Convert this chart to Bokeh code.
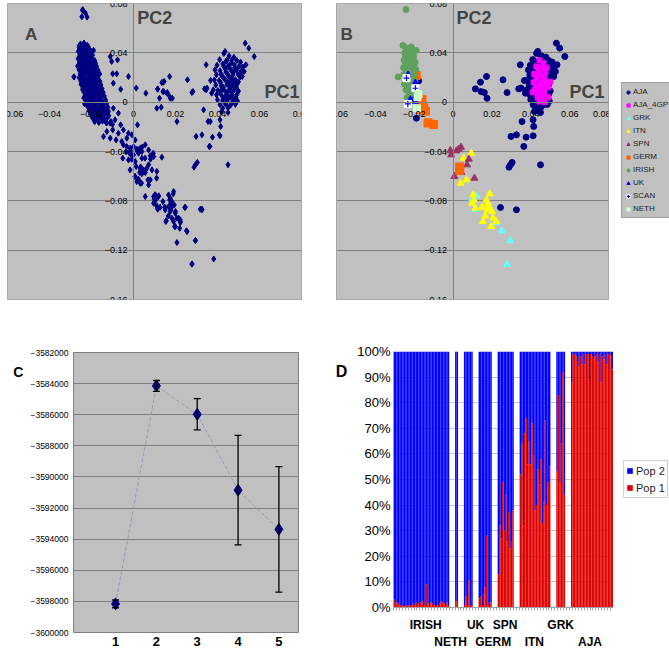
from bokeh.plotting import figure
from bokeh.models import (ColumnDataSource, Legend, LegendItem, Label, Whisker, LinearAxis,
                          TeeHead, FixedTicker, BasicTickFormatter, PrintfTickFormatter, Range1d)
from bokeh.layouts import row, column
from bokeh.embed import file_html
from bokeh.resources import INLINE

FONT = "Liberation Sans"
PLOT_BG = "#C0C0C0"
GRID = "#808080"

# ---------------- PCA data (PC1, PC2) ----------------
PC1_TICKS = [-0.06, -0.04, -0.02, 0, 0.02, 0.04, 0.06, 0.08]
PC2_TICKS = [-0.16, -0.12, -0.08, -0.04, 0, 0.04, 0.08]

AJA = [(0.0430,0.0395),(0.0455,0.0375),(0.0478,0.0365),
       (0.0410,0.0345),(0.0440,0.0330),(0.0468,0.0340),(0.0492,0.0338),(0.0510,0.0325),
       (0.0398,0.0300),(0.0425,0.0310),(0.0452,0.0295),(0.0480,0.0302),(0.0502,0.0290),(0.0520,0.0285),
       (0.0388,0.0262),(0.0412,0.0255),(0.0438,0.0268),(0.0465,0.0258),(0.0490,0.0262),(0.0512,0.0250),
       (0.0395,0.0222),(0.0420,0.0215),(0.0448,0.0228),(0.0472,0.0218),(0.0498,0.0225),(0.0508,0.0205),
       (0.0385,0.0180),(0.0408,0.0175),(0.0435,0.0185),(0.0460,0.0172),(0.0485,0.0182),
       (0.0392,0.0140),(0.0418,0.0132),(0.0445,0.0145),(0.0470,0.0135),(0.0492,0.0142),
       (0.0380,0.0100),(0.0402,0.0095),(0.0428,0.0105),(0.0455,0.0098),(0.0480,0.0102),(0.0500,0.0090),
       (0.0395,0.0060),(0.0420,0.0055),(0.0446,0.0065),(0.0470,0.0058),(0.0492,0.0062),
       (0.0400,0.0020),(0.0425,0.0015),(0.0450,0.0025),(0.0475,0.0018),(0.0495,0.0010),
       (0.0412,-0.0020),(0.0438,-0.0015),(0.0462,-0.0025),(0.0485,-0.0018),
       (0.0425,-0.0050),(0.0450,-0.0045),
       (0.0172,0.0208),(0.0141,0.0162),(0.0115,0.0108),(0.0144,0.0086),(0.0161,0.0078),(0.0175,0.0032),
       (0.0257,0.0181),(0.0278,0.0078),(0.0346,0.0303),(0.0338,0.0108),(0.0350,0.0114),(0.0367,0.0176),
       (0.0372,0.0073),(0.0532,0.0478),(0.0549,0.0438),(0.0575,0.0370),(0.0436,0.0411),(0.0535,0.0303),
       (0.0527,0.0249),(0.0518,0.0208),(0.0419,-0.0076),(0.0450,-0.0084),(0.0355,-0.0157),(0.0412,-0.0143),
       (0.0415,-0.0197),(0.0298,-0.0278),(0.0326,-0.0265),(0.0376,-0.0284),(0.0412,-0.0273),(0.0364,-0.0359),
       (0.0304,-0.0489),(0.0295,-0.0508),(0.0288,-0.0527),(0.0450,-0.0508),(0.0244,-0.0854),(0.0326,-0.0873),
       (-0.0177,0.0173),(-0.0189,-0.0130)]
AJA_4GP = [(0.0445,0.0340),(0.0465,0.0318),(0.0430,0.0290),(0.0458,0.0278),(0.0440,0.0245),(0.0475,0.0240),
           (0.0418,0.0228),(0.0452,0.0210),(0.0430,0.0195),(0.0470,0.0195),(0.0415,0.0160),(0.0448,0.0160),
           (0.0478,0.0158),(0.0428,0.0120),(0.0460,0.0118),(0.0490,0.0120),(0.0410,0.0080),(0.0440,0.0082),
           (0.0468,0.0078),(0.0488,0.0040),(0.0435,0.0040),(0.0460,0.0040),(0.0445,0.0005),(0.0472,0.0002),
           (0.0420,0.0100),(0.0482,0.0280),(0.0455,0.0135),(0.0500,0.0165)]
GRK = [(0.0098,-0.0786),(0.0120,-0.0759),(0.0115,-0.0868),(0.0223,-0.0976),(0.0252,-0.1043),
       (0.0295,-0.1122),(0.0278,-0.1314)]
ITN = [(0.0094,-0.0414),(0.0055,-0.0454),(0.0069,-0.0630),(0.0038,-0.0657),(0.0103,-0.0751),(0.0098,-0.0819),
       (0.0115,-0.0859),(0.0149,-0.0851),(0.0172,-0.0792),(0.0189,-0.0743),(0.0184,-0.0846),(0.0200,-0.0886),
       (0.0166,-0.0922),(0.0206,-0.0940),(0.0154,-0.0968),(0.0196,-0.1008),(0.0223,-0.0968),(0.0178,-0.0873),
       (0.0106,-0.0792),(0.0178,-0.0819)]
SPN = [(-0.0014,-0.0392),(-0.0010,-0.0427),(0.0017,-0.0395),(0.0029,-0.0381),(0.0041,-0.0365),(0.0081,-0.0462),
       (0.0072,-0.0508),(0.0007,-0.0603),(0.0029,-0.0570),(0.0043,-0.0570),(0.0110,-0.0616)]
GERM = [(-0.0190,0.0216),(-0.0211,0.0057),(-0.0180,0.0040),(-0.0163,-0.0005),(-0.0151,-0.0046),(-0.0142,-0.0073),
        (-0.0129,-0.0168),(-0.0100,-0.0181),(-0.0168,-0.0059),(-0.0160,0.0022),(0.0034,-0.0525),(0.0034,-0.0555)]
IRISH = [(-0.0242,0.0751),(-0.0258,0.0460),(-0.0242,0.0440),(-0.0215,0.0448),(-0.0190,0.0420),(-0.0248,0.0400),
         (-0.0228,0.0410),(-0.0208,0.0400),(-0.0245,0.0370),(-0.0225,0.0365),(-0.0203,0.0370),(-0.0252,0.0340),
         (-0.0232,0.0335),(-0.0212,0.0340),(-0.0195,0.0325),(-0.0245,0.0305),(-0.0220,0.0300),(-0.0200,0.0298),
         (-0.0255,0.0280),(-0.0236,0.0275),(-0.0210,0.0270),(-0.0192,0.0265),(-0.0283,0.0205),(-0.0253,0.0225),
         (-0.0228,0.0232),(-0.0203,0.0218),(-0.0245,0.0185),(-0.0218,0.0180),(-0.0196,0.0170),(-0.0250,0.0145),
         (-0.0230,0.0130),(-0.0206,0.0135),(-0.0242,0.0100),(-0.0220,0.0090),(-0.0195,0.0098),(-0.0228,0.0060),
         (-0.0207,0.0055),(-0.0237,0.0035)]
UK = [(-0.0232,0.0224),(-0.0194,0.0160),(-0.0220,0.0024),(-0.0194,0.0046),(-0.0194,0.0005),(-0.0182,0.0084)]
SCAN = [(-0.0240,0.0195),(-0.0194,0.0113),(-0.0233,-0.0014)]
NETH = [(-0.0183,0.0040),(-0.0186,-0.0050),(-0.0178,0.0065)]

# samples shown only in panel A (all-sample PCA)
A_ONLY = [(-0.0243,0.0745),(-0.0229,0.0722),(-0.0246,0.0692),(-0.0221,0.0690),
    (-0.0252,0.0472),(-0.0236,0.0480),(-0.0220,0.0462),
    (-0.0259,0.0443),(-0.0245,0.0436),(-0.0229,0.0446),(-0.0211,0.0431),
    (-0.0263,0.0412),(-0.0249,0.0405),(-0.0233,0.0418),(-0.0218,0.0402),(-0.0202,0.0414),
    (-0.0256,0.0383),(-0.0241,0.0376),(-0.0225,0.0388),(-0.0210,0.0372),(-0.0195,0.0381),
    (-0.0264,0.0352),(-0.0246,0.0345),(-0.0231,0.0358),(-0.0217,0.0343),(-0.0203,0.0355),(-0.0186,0.0340),
    (-0.0257,0.0322),(-0.0240,0.0315),(-0.0226,0.0328),(-0.0212,0.0312),(-0.0197,0.0324),(-0.0181,0.0318),
    (-0.0266,0.0293),(-0.0251,0.0286),(-0.0236,0.0298),(-0.0221,0.0284),(-0.0205,0.0295),(-0.0190,0.0282),(-0.0176,0.0291),
    (-0.0259,0.0262),(-0.0243,0.0255),(-0.0229,0.0268),(-0.0213,0.0252),(-0.0198,0.0264),(-0.0184,0.0251),(-0.0169,0.0259),
    (-0.0253,0.0232),(-0.0238,0.0225),(-0.0222,0.0236),(-0.0207,0.0222),(-0.0191,0.0233),(-0.0177,0.0220),(-0.0161,0.0228),
    (-0.0284,0.0205),(-0.0259,0.0198),(-0.0245,0.0206),(-0.0229,0.0192),(-0.0214,0.0203),(-0.0199,0.0190),(-0.0184,0.0201),(-0.0168,0.0188),
    (-0.0251,0.0172),(-0.0236,0.0165),(-0.0221,0.0176),(-0.0206,0.0162),(-0.0190,0.0173),(-0.0176,0.0160),(-0.0160,0.0169),
    (-0.0246,0.0142),(-0.0231,0.0135),(-0.0216,0.0146),(-0.0201,0.0131),(-0.0186,0.0143),(-0.0171,0.0130),(-0.0155,0.0139),
    (-0.0241,0.0112),(-0.0225,0.0104),(-0.0210,0.0116),(-0.0195,0.0101),(-0.0180,0.0113),(-0.0165,0.0100),(-0.0150,0.0109),
    (-0.0236,0.0082),(-0.0221,0.0075),(-0.0206,0.0086),(-0.0191,0.0071),(-0.0176,0.0083),(-0.0160,0.0070),(-0.0144,0.0079),
    (-0.0230,0.0052),(-0.0215,0.0045),(-0.0200,0.0056),(-0.0185,0.0041),(-0.0170,0.0053),(-0.0155,0.0040),(-0.0139,0.0049),
    (-0.0226,0.0022),(-0.0211,0.0015),(-0.0196,0.0026),(-0.0181,0.0011),(-0.0166,0.0023),(-0.0150,0.0010),(-0.0133,0.0019),
    (-0.0222,-0.0008),(-0.0207,-0.0015),(-0.0192,-0.0004),(-0.0177,-0.0019),(-0.0161,-0.0007),(-0.0146,-0.0020),(-0.0128,-0.0011),
    (-0.0218,-0.0038),(-0.0203,-0.0045),(-0.0188,-0.0034),(-0.0172,-0.0049),(-0.0156,-0.0037),(-0.0140,-0.0050),(-0.0122,-0.0041),
    (-0.0212,-0.0068),(-0.0196,-0.0075),(-0.0180,-0.0064),(-0.0164,-0.0079),(-0.0148,-0.0067),(-0.0130,-0.0080),
    (-0.0205,-0.0098),(-0.0188,-0.0105),(-0.0171,-0.0094),(-0.0155,-0.0109),(-0.0138,-0.0097),(-0.0118,-0.0110),
    (-0.0195,-0.0128),(-0.0176,-0.0135),(-0.0160,-0.0124),(-0.0142,-0.0139),(-0.0125,-0.0127),
    (-0.0185,-0.0158),(-0.0165,-0.0165),(-0.0148,-0.0154),(-0.0128,-0.0169),(-0.0108,-0.0157),
    (-0.0111,0.0370),(-0.0076,0.0343),(-0.0104,0.0330),(-0.0080,0.0230),(-0.0099,0.0230),(-0.0024,0.0208),
    (-0.0096,0.0154),(-0.0061,0.0105),(0.0013,0.0114),(0.0059,0.0073),(0.0115,0.0105),(0.0135,0.0159),
    (0.0146,0.0168),(0.0140,0.0086),(0.0159,0.0073),(0.0172,0.0046),(0.0185,0.0032),(0.0124,0.0032),
    (0.0111,-0.0049),(0.0132,-0.0041),(0.0207,-0.0157),(0.0283,0.0086),(0.0346,0.0100),(0.0334,-0.0062),
    (0.0366,-0.0157),(0.0361,-0.0359),(0.0409,-0.0265),
    (-0.0143,-0.0035),(-0.0119,-0.0076),(-0.0096,-0.0049),(-0.0072,-0.0089),(-0.0135,-0.0143),(-0.0111,-0.0170),
    (-0.0088,-0.0143),(-0.0061,-0.0184),(-0.0127,-0.0238),(-0.0099,-0.0225),(-0.0072,-0.0252),(-0.0048,-0.0225),
    (-0.0024,-0.0252),(-0.0143,-0.0279),(-0.0111,-0.0292),(-0.0083,-0.0306),(-0.0056,-0.0319),(-0.0032,-0.0292),
    (-0.0008,-0.0265),(0.0019,-0.0184),(0.0008,-0.0306),
    (-0.0048,-0.0346),(-0.0032,-0.0360),(-0.0016,-0.0373),(0.0000,-0.0360),(0.0016,-0.0381),(0.0032,-0.0373),
    (0.0056,-0.0346),(0.0072,-0.0387),(-0.0035,-0.0400),(-0.0019,-0.0414),(0.0000,-0.0427),(0.0024,-0.0414),
    (0.0040,-0.0400),(-0.0051,-0.0454),(-0.0024,-0.0468),(-0.0008,-0.0463),(0.0008,-0.0481),(0.0040,-0.0454),
    (0.0080,-0.0435),(0.0096,-0.0441),(0.0135,-0.0446),(-0.0016,-0.0549),(0.0013,-0.0522),(0.0032,-0.0535),
    (0.0048,-0.0549),(0.0064,-0.0535),(0.0088,-0.0549),(0.0111,-0.0562),(0.0008,-0.0603),(0.0024,-0.0625),
    (0.0040,-0.0581),(0.0056,-0.0571),(0.0080,-0.0630),(0.0032,-0.0657),(0.0016,-0.0644),(0.0072,-0.0671),
    (0.0056,-0.0765),(0.0096,-0.0765),(0.0104,-0.0752),(0.0119,-0.0765),(0.0096,-0.0819),(0.0111,-0.0841),
    (0.0127,-0.0852),(0.0140,-0.0806),(0.0167,-0.0752),(0.0175,-0.0779),(0.0183,-0.0806),(0.0191,-0.0725),
    (0.0194,-0.0833),(0.0167,-0.0846),(0.0151,-0.0873),(0.0175,-0.0887),(0.0199,-0.0900),(0.0215,-0.0941),
    (0.0223,-0.0954),(0.0183,-0.0941),(0.0191,-0.0968),(0.0156,-0.0960),(0.0199,-0.1008),(0.0220,-0.1022),
    (0.0247,-0.0852),(0.0255,-0.1049),(0.0295,-0.1122),(0.0207,-0.1138),(0.0318,-0.0868),(0.0326,-0.0868),
    (0.0279,-0.1311),(0.0382,-0.1271)]

# ---------------- Panel C data ----------------
K = [1, 2, 3, 4, 5]
LL_MEAN = [-3598160, -3584150, -3585970, -3590850, -3593370]
LL_ERR = [250, 350, 1000, 3520, 4030]
LL_TICKS = list(range(-3600000, -3581999, 2000))

# ---------------- Panel D data (Pop 1 share, %) ----------------
GROUPS = ["IRISH", "NETH", "UK", "GERM", "SPN", "ITN", "GRK", "AJA"]
POP1 = {
    "IRISH": [3, 2, 1.5, 1.5, 1, 1, 0.5, 0.5, 1, 1, 0.5, 1, 1, 1.5, 1, 2, 1.5, 1, 2, 2.5, 1, 1, 9, 1.5,
              1, 2, 1.5, 1, 1, 1, 1, 1.5, 2.5, 2, 1.5, 1, 2, 1],
    "NETH": [2.5, 2.5],
    "UK": [1, 4.5, 1, 10.5, 1, 0.5],
    "GERM": [3.5, 4.5, 1, 5, 8, 28, 1, 2, 2],
    "SPN": [13, 32, 27, 49, 30, 44, 26, 37, 23, 26, 38],
    "ITN": [52, 64, 32, 68, 74, 56, 65, 56, 72, 60, 38, 40, 54, 48, 58, 33, 41, 73, 40, 49, 55],
    "GRK": [53, 83, 49, 64, 92, 44],
    "AJA": [88, 99, 99, 98, 96, 94, 98, 95, 99, 95, 99, 99, 89, 99, 98, 97, 98, 99, 96, 99, 88, 98,
            97, 99, 95, 99, 99, 98, 93],
}
LABEL_ROW = [0, 1, 0, 1, 0, 1, 0, 1]
LABEL_NUDGE = [3, -4, 5, 5, 0, 0, 0, -2]   # in bar slots
PCT_TICKS = list(range(0, 101, 10))


def xs(pts):
    return [p[0] for p in pts]


def ys(pts):
    return [p[1] for p in pts]


def pca_figure(width, mbl, mbr):
    p = figure(width=width, height=330, x_range=Range1d(-0.06, 0.08), y_range=Range1d(-0.16, 0.08),
               output_backend="svg", toolbar_location=None,
               min_border_left=mbl, min_border_right=mbr, min_border_top=3, min_border_bottom=31)
    p.background_fill_color = PLOT_BG
    p.border_fill_color = "white"
    p.outline_line_color = "#A8A8A8"
    p.xgrid.visible = False
    p.ygrid.ticker = FixedTicker(ticks=PC2_TICKS)
    p.ygrid.grid_line_color = GRID
    p.xaxis.fixed_location = 0
    p.yaxis.fixed_location = 0
    p.xaxis.ticker = FixedTicker(ticks=PC1_TICKS)
    p.yaxis.ticker = FixedTicker(ticks=PC2_TICKS)
    p.xaxis.major_label_overrides = {0: "0"}
    p.yaxis.major_label_overrides = {0: "0"}
    for ax in (p.xaxis, p.yaxis):
        ax.axis_line_color = GRID
        ax.major_tick_line_color = None
        ax.minor_tick_line_color = None
        ax.major_tick_out = 0
        ax.major_tick_in = 0
        ax.major_label_text_font = FONT
        ax.major_label_text_font_size = "9px"
        ax.major_label_text_color = "black"
    p.xaxis.major_label_standoff = 9
    p.yaxis.major_label_standoff = 6
    return p


def big_label(p, x, y, text, size):
    p.add_layout(Label(x=x, y=y, text=text, text_font=FONT, text_font_size=size,
                       text_font_style="bold", text_baseline="top", text_align="left"))


def legend_holder(width, height):
    # plain canvas that only carries a legend; its data ranges lie far from the data,
    # so the renderers themselves stay out of view
    p = figure(width=width, height=height, x_range=Range1d(1000, 1001), y_range=Range1d(1000, 1001),
               x_axis_type=None, y_axis_type=None,
               output_backend="svg", toolbar_location=None, min_border=0)
    p.grid.visible = False
    p.outline_line_color = None
    p.background_fill_color = "white"
    p.border_fill_color = "white"
    return p


# ---------------- Panel A ----------------
pa = pca_figure(318, 7, 17)
ALL_A = AJA + AJA_4GP + GRK + ITN + SPN + GERM + IRISH + UK + SCAN + NETH + A_ONLY
pa.scatter(xs(ALL_A), ys(ALL_A), marker="diamond", size=6, color="#000080")
big_label(pa, -0.0517, 0.0627, "A", "17px")
big_label(pa, 0.0018, 0.0760, "PC2", "18px")
big_label(pa, 0.0624, 0.0160, "PC1", "18px")

# ---------------- Panel B ----------------
pb = pca_figure(292, 18, 2)
STY = dict(
    AJA=dict(marker="circle", size=6, color="#000080"),
    AJA_4GP=dict(marker="square", size=5, color="#FF00FF"),
    GRK=dict(marker="triangle", size=7, color="#66FFFF"),
    ITN=dict(marker="triangle", size=7, color="#FFFF00"),
    SPN=dict(marker="triangle", size=7, color="#993366"),
    GERM=dict(marker="square", size=8, color="#FF6600"),
    IRISH=dict(marker="circle", size=6, color="#5FA05F"),
    UK=dict(marker="triangle", size=6, color="#0000FF"),
    NETH=dict(marker="square", size=7, color="#CCFFCC"),
)
SERIES = [("AJA", AJA), ("AJA_4GP", AJA_4GP), ("GRK", GRK), ("ITN", ITN), ("SPN", SPN),
          ("GERM", GERM), ("IRISH", IRISH), ("UK", UK), ("SCAN", SCAN), ("NETH", NETH)]
lb = legend_holder(59, 330)
items = []
for name, pts in SERIES:
    if name == "SCAN":
        pb.scatter(xs(pts), ys(pts), marker="square", size=7, color="white")
        pb.scatter(xs(pts), ys(pts), marker="cross", size=6, line_color="#0000FF", line_width=1.2)
        r1 = lb.scatter(xs(pts), ys(pts), marker="square", size=7, color="white")
        r2 = lb.scatter(xs(pts), ys(pts), marker="cross", size=6, line_color="#0000FF", line_width=1.2)
        items.append(LegendItem(label=name, renderers=[r1, r2]))
    else:
        pb.scatter(xs(pts), ys(pts), **STY[name])
        r = lb.scatter(xs(pts), ys(pts), **STY[name])
        items.append(LegendItem(label=name, renderers=[r]))
big_label(pb, -0.0580, 0.0627, "B", "17px")
big_label(pb, 0.0018, 0.0760, "PC2", "18px")
big_label(pb, 0.0599, 0.0160, "PC1", "18px")
leg_b = Legend(items=items, location=(11, 112), label_text_font=FONT, label_text_font_size="8px",
               label_text_color="#222222", glyph_width=8, glyph_height=8, label_height=13,
               label_standoff=1, padding=2, spacing=0, margin=0,
               background_fill_color=PLOT_BG, background_fill_alpha=1.0, border_line_color=GRID)
lb.add_layout(leg_b)

# ---------------- Panel C ----------------
pc = figure(width=332, height=321, x_range=Range1d(-0.03, 5.48), y_range=Range1d(-3600000, -3582000),
            output_backend="svg", toolbar_location=None,
            min_border_left=73, min_border_right=34, min_border_top=22, min_border_bottom=19)
pc.background_fill_color = PLOT_BG
pc.border_fill_color = "white"
pc.outline_line_color = GRID
pc.xgrid.visible = False
pc.ygrid.ticker = FixedTicker(ticks=LL_TICKS)
pc.ygrid.grid_line_color = GRID
pc.yaxis.ticker = FixedTicker(ticks=LL_TICKS)
pc.yaxis.formatter = BasicTickFormatter(use_scientific=False)
pc.xaxis.ticker = FixedTicker(ticks=K)
for ax in (pc.xaxis, pc.yaxis):
    ax.axis_line_color = None
    ax.major_tick_line_color = None
    ax.minor_tick_line_color = None
    ax.major_tick_out = 0
    ax.major_label_text_font = FONT
    ax.major_label_text_color = "black"
pc.yaxis.major_label_text_font_size = "8.5px"
pc.yaxis.major_label_standoff = 5
pc.xaxis.major_label_text_font_size = "13px"
pc.xaxis.major_label_text_font_style = "bold"
pc.xaxis.major_label_standoff = 4
pc.yaxis.axis_label = "\n\nC"
pc.yaxis.axis_label_text_font = FONT
pc.yaxis.axis_label_text_font_size = "14px"
pc.yaxis.axis_label_text_font_style = "bold"
pc.yaxis.axis_label_text_color = "black"
pc.yaxis.axis_label_standoff = 4
pc.yaxis.axis_label_orientation = "horizontal"
try:
    pc.yaxis.axis_label_align = "end"
except Exception:
    pass
pc.line(K, LL_MEAN, line_color="#9A9ABA", line_dash="4 2", line_width=1)
err_src = ColumnDataSource(dict(k=K, upper=[m + e for m, e in zip(LL_MEAN, LL_ERR)],
                                lower=[m - e for m, e in zip(LL_MEAN, LL_ERR)]))
pc.add_layout(Whisker(source=err_src, base="k", upper="upper", lower="lower", line_color="black",
                      line_width=1.3, level="glyph",
                      upper_head=TeeHead(size=7, line_color="black", line_width=1.3),
                      lower_head=TeeHead(size=7, line_color="black", line_width=1.3)))
pc.scatter(K, LL_MEAN, marker="diamond", size=12, color="#000080")

# ---------------- Panel D ----------------
GAP = 4
bar_x, bar_p1, centers = [], [], []
pos = 0
for g in GROUPS:
    start = pos
    for v in POP1[g]:
        bar_x.append(pos + 0.5)
        bar_p1.append(v)
        pos += 1
    centers.append((start + pos) / 2)
    pos += GAP
n_slots = pos - GAP
label_pos = [int(round(c + d)) for c, d in zip(centers, LABEL_NUDGE)]

pd_ = figure(width=281, height=321, x_range=Range1d(0, n_slots), y_range=Range1d(0, 100),
             output_backend="svg", toolbar_location=None,
             min_border_left=58, min_border_right=0, min_border_top=21, min_border_bottom=42)
pd_.background_fill_color = "white"
pd_.border_fill_color = "white"
pd_.outline_line_color = None
pd_.xgrid.visible = False
pd_.ygrid.ticker = FixedTicker(ticks=PCT_TICKS)
pd_.ygrid.grid_line_color = "#C8C8C8"
bsrc = ColumnDataSource(dict(x=bar_x, p1=bar_p1, top=[100] * len(bar_x), zero=[0] * len(bar_x)))
pd_.vbar(x="x", width=1.0, bottom="p1", top="top", source=bsrc, fill_color="#0000FF", line_color=None)
pd_.vbar(x="x", width=1.0, bottom="zero", top="p1", source=bsrc, fill_color="#E00000", line_color=None)
pd_.yaxis.ticker = FixedTicker(ticks=PCT_TICKS)
pd_.yaxis.formatter = PrintfTickFormatter(format="%d%%")
pd_.yaxis.major_label_text_font = FONT
pd_.yaxis.major_label_text_font_size = "13px"
pd_.yaxis.major_label_text_color = "black"
pd_.yaxis.axis_line_color = "#A0A0A0"
pd_.yaxis.major_tick_line_color = None
pd_.yaxis.major_tick_out = 0
pd_.yaxis.minor_tick_line_color = None
pd_.yaxis.major_label_standoff = 3
pd_.yaxis.axis_label = "\n\nD"
pd_.yaxis.axis_label_text_font = FONT
pd_.yaxis.axis_label_text_font_size = "16px"
pd_.yaxis.axis_label_text_font_style = "bold"
pd_.yaxis.axis_label_text_color = "black"
pd_.yaxis.axis_label_standoff = 7
pd_.yaxis.axis_label_orientation = "horizontal"
try:
    pd_.yaxis.axis_label_align = "end"
except Exception:
    pass

row0 = [i for i, r in enumerate(LABEL_ROW) if r == 0]
row1 = [i for i, r in enumerate(LABEL_ROW) if r == 1]
xa = pd_.xaxis[0]
xa.ticker = FixedTicker(ticks=[label_pos[i] for i in row0], minor_ticks=list(range(0, n_slots + 1, 2)))
xa.major_label_overrides = {label_pos[i]: GROUPS[i] for i in row0}
xa.axis_line_color = "#A0A0A0"
xa.major_tick_line_color = None
xa.major_tick_out = 0
xa.minor_tick_line_color = "#A0A0A0"
xa.minor_tick_out = 3
xa.minor_tick_in = 0
xa.major_label_standoff = 7
xa.major_label_text_font = FONT
xa.major_label_text_font_size = "12px"
xa.major_label_text_font_style = "bold"
xa.major_label_text_color = "black"
xa2 = LinearAxis(ticker=FixedTicker(ticks=[label_pos[i] for i in row1]),
                 major_label_overrides={label_pos[i]: GROUPS[i] for i in row1},
                 axis_line_color=None, major_tick_line_color=None, minor_tick_line_color=None,
                 major_tick_out=0, major_label_standoff=0, major_label_text_font=FONT,
                 major_label_text_font_size="12px", major_label_text_font_style="bold",
                 major_label_text_color="black")
pd_.add_layout(xa2, "below")

ld = legend_holder(56, 321)
lr2 = ld.vbar(x="x", width=1.0, bottom="p1", top="top", source=bsrc, fill_color="#0000FF", line_color=None)
lr1 = ld.vbar(x="x", width=1.0, bottom="zero", top="p1", source=bsrc, fill_color="#E00000", line_color=None)
leg_d = Legend(items=[LegendItem(label="Pop 2", renderers=[lr2]), LegendItem(label="Pop 1", renderers=[lr1])],
               location=(10, 153), label_text_font=FONT, label_text_font_size="11px", label_text_color="#222222",
               glyph_width=7, glyph_height=7, label_height=15, label_standoff=3, padding=2, spacing=2,
               margin=0, border_line_color="#A0A0A0", background_fill_color="white")
ld.add_layout(leg_d)

layout = column(row(pa, pb, column(lb)), row(column(pc), column(pd_), column(ld)))
open("out.html", "w").write(file_html(layout, INLINE))
